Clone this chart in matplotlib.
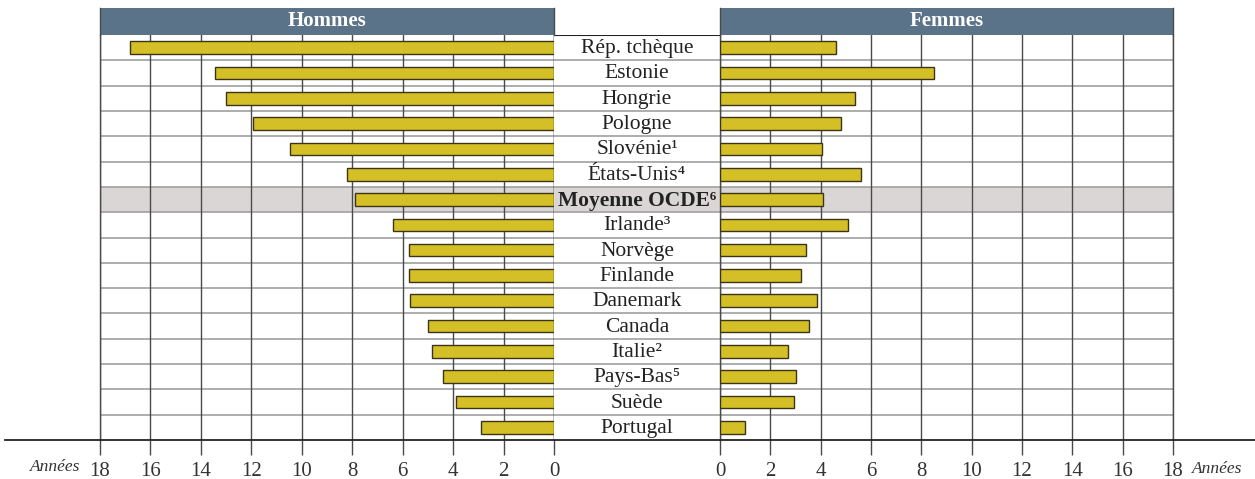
import matplotlib
matplotlib.use("Agg")
import matplotlib.pyplot as plt
from matplotlib.patches import Rectangle
from matplotlib.lines import Line2D

plt.rcParams['font.family'] = ['Liberation Serif', 'DejaVu Serif']

# data
pays = ["Rép. tchèque", "Estonie", "Hongrie", "Pologne", "Slovénie¹",
        "États-Unis⁴", "Moyenne OCDE⁶", "Irlande³", "Norvège",
        "Finlande", "Danemark", "Canada", "Italie²", "Pays-Bas⁵",
        "Suède", "Portugal"]
hommes = [16.8, 13.45, 13.0, 11.95, 10.45, 8.2, 7.9, 6.4, 5.75, 5.75, 5.7,
          5.0, 4.85, 4.4, 3.9, 2.9]
femmes = [4.6, 8.5, 5.35, 4.8, 4.05, 5.6, 4.1, 5.1, 3.4, 3.2, 3.85, 3.55,
          2.7, 3.0, 2.95, 1.0]
ticks = list(range(0, 19, 2))
highlight = 6

bar_col = '#d5bf27'
edge_col = '#3b3418'
head_col = '#5b7389'
band_col = '#dad6d6'
grid_col = '#4a4a4a'
row_col = '#a0a0a0'

W, H = 1255, 479
fig = plt.figure(figsize=(W / 100, H / 100), dpi=100)

def fx(px):
    return px / W

def fy(py):
    return 1 - py / H

top, bot = 35, 440
n = len(pays)
rows = list(range(n))

axL = fig.add_axes([fx(100), fy(bot), fx(554 - 100), (bot - top) / H])
axC = fig.add_axes([fx(554), fy(bot), fx(720 - 554), (bot - top) / H])
axR = fig.add_axes([fx(720), fy(bot), fx(1173 - 720), (bot - top) / H])

for ax, vals in [(axL, hommes), (axR, femmes)]:
    ax.set_ylim(n - 0.5, -0.5)
    ax.axhspan(highlight - 0.5, highlight + 0.5, color=band_col, zorder=0, lw=0)
    for i in range(n - 1):
        ax.axhline(i + 0.5, color=row_col, lw=1.2, zorder=1)
    ax.barh(rows, vals, height=0.5, color=bar_col, edgecolor=edge_col,
            linewidth=1, zorder=3)
    ax.set_xlim(0, 18)
    ax.set_xticks(ticks)
    ax.set_yticks([])
    ax.grid(axis='x', color=grid_col, lw=1, zorder=2)
    ax.set_axisbelow(False)
    ax.tick_params(axis='x', length=11, width=1, color=grid_col, pad=5,
                   labelsize=15, labelcolor='#333333')
    for s in ['top', 'bottom']:
        ax.spines[s].set_visible(False)
    for s in ['left', 'right']:
        ax.spines[s].set_color(grid_col)
        ax.spines[s].set_linewidth(1)

axL.invert_xaxis()

axC.set_ylim(n - 0.5, -0.5)
axC.set_xlim(0, 1)
axC.axhspan(highlight - 0.5, highlight + 0.5, color=band_col, zorder=0, lw=0)
for i in range(n - 1):
    axC.axhline(i + 0.5, color=row_col, lw=1.2, zorder=1)
axC.axhline(-0.5, color='#222222', lw=1.5, zorder=2)
axC.set_xticks([])
axC.set_yticks([])
for s in axC.spines.values():
    s.set_visible(False)
for i, p in enumerate(pays):
    axC.text(0.5, i + 0.04, p, ha='center', va='center', fontsize=15.5,
             color='#222222', fontweight='bold' if i == highlight else 'normal')

# headers
for x0, x1, lab in [(100, 554, 'Hommes'), (720, 1173, 'Femmes')]:
    fig.patches.append(Rectangle((fx(x0), fy(top)), fx(x1 - x0), (top - 8) / H,
                                 transform=fig.transFigure, facecolor=head_col,
                                 edgecolor='none'))
    fig.text(fx((x0 + x1) / 2), fy(21.5), lab, ha='center', va='center',
             color='white', fontsize=15, fontweight='bold')
for x in [100, 554, 720, 1173]:
    fig.add_artist(Line2D([fx(x), fx(x)], [fy(top), fy(8)], color=grid_col, lw=1))

# baseline
fig.add_artist(Line2D([fx(5), 1], [fy(bot), fy(bot)], color='#222222', lw=1.3))

fig.text(fx(80), fy(467), 'Années', ha='right', va='center', fontsize=12.5,
         style='italic', color='#333333')
fig.text(fx(1192), fy(469), 'Années', ha='left', va='center', fontsize=12.5,
         style='italic', color='#333333')

fig.savefig('out.png', dpi=100)
